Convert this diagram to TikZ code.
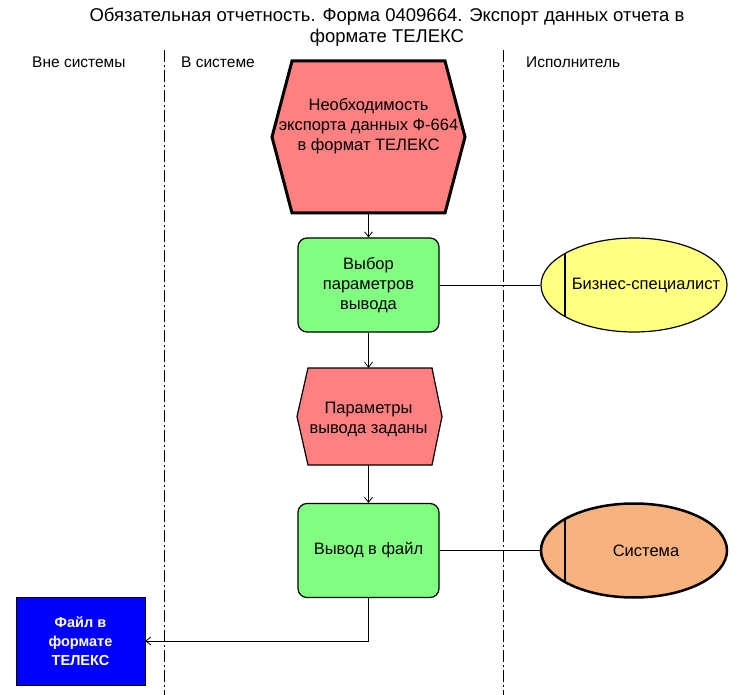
\documentclass[tikz,border=0pt]{standalone}
\usepackage{fontspec}
\setmainfont{Liberation Sans}
\usetikzlibrary{arrows.meta,positioning,shapes.geometric}
\definecolor{evred}{HTML}{FF8080}
\definecolor{fngreen}{HTML}{80FF80}
\definecolor{orgyellow}{HTML}{FFFF80}
\definecolor{sysorange}{HTML}{F7B27E}
\tikzset{
  lanelabel/.style={font=\fontsize{15.5}{18}\selectfont, anchor=west, inner sep=0},
  lanesep/.style={dash pattern=on 12pt off 3pt on 2pt off 3pt, line width=0.8pt},
  evtext/.style={font=\fontsize{16.5}{20}\selectfont, align=center, inner sep=0},
  funcbox/.style={draw, line width=1.2pt, fill=fngreen, rounded corners=9pt, minimum width=141pt, minimum height=94pt, align=center, font=\fontsize{16.5}{20}\selectfont, inner sep=0},
  orgell/.style={draw, ellipse, minimum width=186pt, minimum height=94pt, inner sep=0},
  orgtext/.style={font=\fontsize{16.5}{20}\selectfont, inner sep=0},
  flow/.style={line width=0.8pt, -{Straight Barb[length=5pt,width=8pt]}},
  link/.style={line width=0.8pt},
}
\begin{document}
\begin{tikzpicture}[x=1pt,y=-1pt]
\useasboundingbox (0,0) rectangle (737,695);
\fill[white] (0,0) rectangle (737,695);
% title
\node[font=\fontsize{18.5}{21.5}\selectfont, align=center] (title) at (387,27) {Обязательная отчетность. Форма 0409664. Экспорт данных отчета в\\формате ТЕЛЕКС};
% lane labels
\node[lanelabel] (l1) at (32,62) {Вне системы};
\node[lanelabel] (l2) at (181,62) {В системе};
\node[lanelabel] (l3) at (526,62) {Исполнитель};
% lane separators
\coordinate (s1t) at (164,50); \coordinate (s1b) at (164,695);
\coordinate (s2t) at (503,50); \coordinate (s2b) at (503,695);
\draw[lanesep] (s1t) -- (s1b);
\draw[lanesep] (s2t) -- (s2b);
% event 1
\draw[line width=3pt, fill=evred, line join=miter] (292,61) -- (445,61) -- (465,137) -- (445,213) -- (292,213) -- (272,137) -- cycle;
\node[inner sep=0, minimum width=193pt, minimum height=152pt] (e1) at (368.5,137) {};
\node[evtext] (e1t) at (368.5,126) {Необходимость\\экспорта данных Ф-664\\в формат ТЕЛЕКС};
% function 1
\node[funcbox] (f1) at (368.5,285) {Выбор\\параметров\\вывода};
% org 1
\node[orgell, fill=orgyellow, line width=1.2pt] (o1) at (634,285) {};
\node[orgtext] (o1t) at (646,285) {Бизнес-специалист};
\draw[line width=1.2pt] (565,253.5) -- (565,316.5);
% event 2
\draw[line width=1.2pt, fill=evred] (308,368) -- (432,368) -- (442,416.5) -- (432,465) -- (308,465) -- (297,416.5) -- cycle;
\node[inner sep=0, minimum width=145pt, minimum height=97pt] (e2) at (368.5,416.5) {};
\node[evtext] (e2t) at (368.5,419) {Параметры\\вывода заданы};
% function 2
\node[funcbox] (f2) at (368.5,550.5) {Вывод в файл};
% org 2
\node[orgell, fill=sysorange, line width=2.5pt] (o2) at (634,550.5) {};
\node[orgtext] (o2t) at (646,550.5) {Система};
\draw[line width=2.5pt] (565,519) -- (565,582);
% output
\node[draw, fill=blue, minimum width=129pt, minimum height=88pt, inner sep=0, text=white, font=\bfseries\fontsize{14.5}{19}\selectfont, align=center] (out) at (80.5,641) {Файл в\\формате\\ТЕЛЕКС};
% connectors
\draw[flow] (e1.south) -- (f1.north);
\draw[flow] (f1.south) -- (e2.north);
\draw[flow] (e2.south) -- (f2.north);
\draw[link] (f1.east) -- (o1.west);
\draw[link] (f2.east) -- (o2.west);
\draw[flow] (f2.south) |- (out.east);
\end{tikzpicture}
\end{document}
